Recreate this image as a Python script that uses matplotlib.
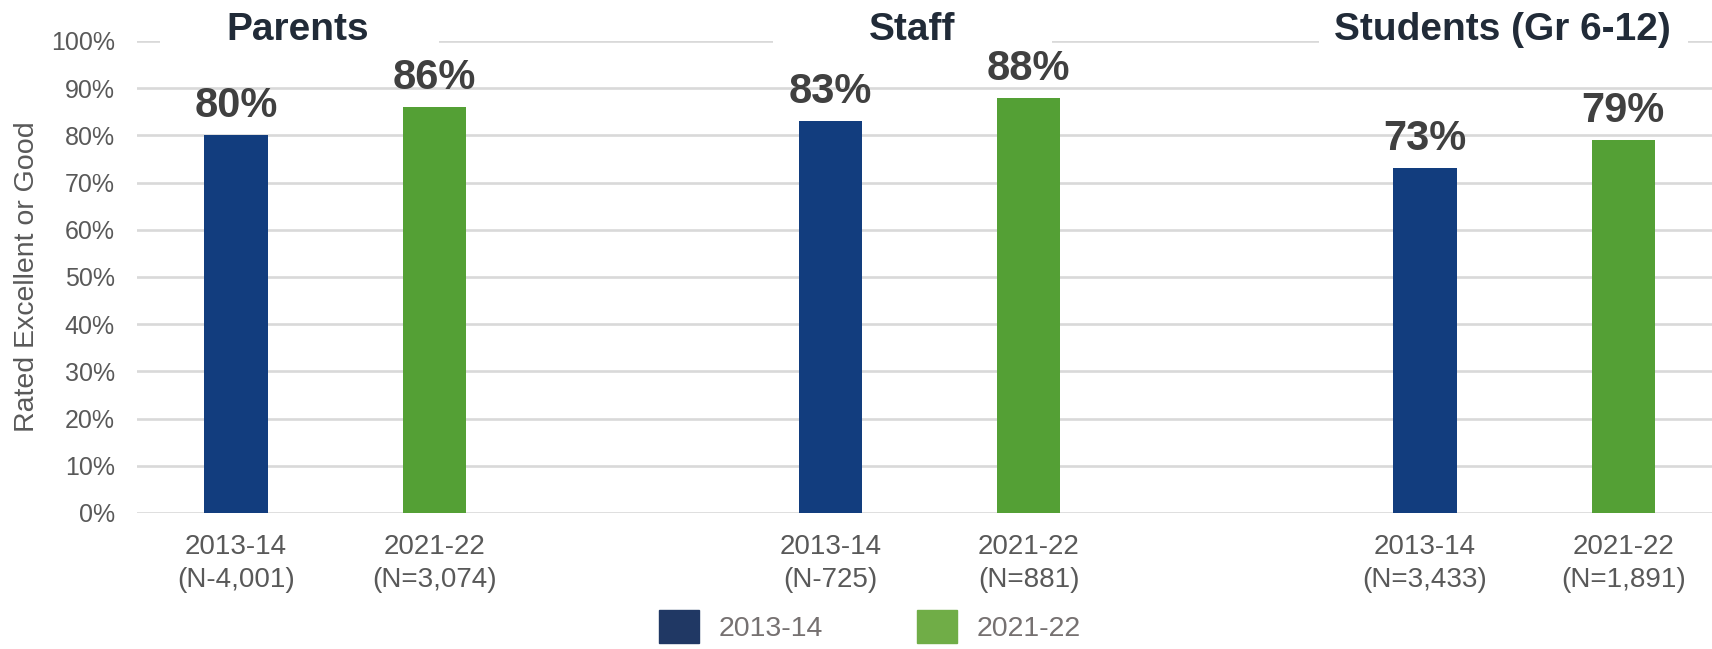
import matplotlib
matplotlib.use("Agg")
import matplotlib.pyplot as plt
from matplotlib.patches import Patch, Rectangle
import numpy as np

plt.rcParams['font.family'] = ['Liberation Sans', 'DejaVu Sans']

# survey results, percent rated excellent or good
groups = ["Parents", "Staff", "Students (Gr 6-12)"]
years = ["2013-14", "2021-22"]
pct_2013 = [80, 83, 73]
pct_2021 = [86, 88, 79]
n_2013 = ["(N-4,001)", "(N-725)", "(N=3,433)"]
n_2021 = ["(N=3,074)", "(N=881)", "(N=1,891)"]

bar_blue = "#123D7E"
bar_green = "#54A035"
leg_blue = "#203864"
leg_green = "#70AD47"
grid_col = "#D9D9D9"
tick_col = "#595959"

# each group takes 3 slots: two bars and a gap
x_old = np.arange(len(groups)) * 3
x_new = x_old + 1

fig = plt.figure(figsize=(17.12, 6.49), dpi=100)
ax = fig.add_axes([137/1712, 1 - 513/649, (1712-137)/1712, (513-41)/649])

b1 = ax.bar(x_old, pct_2013, width=0.32, color=bar_blue, zorder=3)
b2 = ax.bar(x_new, pct_2021, width=0.32, color=bar_green, zorder=3)

for bars, vals in [(b1, pct_2013), (b2, pct_2021)]:
    for rect, v in zip(bars, vals):
        ax.annotate(f"{v}%", (rect.get_x() + rect.get_width()/2, v),
                    xytext=(0, 13), textcoords="offset points",
                    ha="center", va="baseline", fontsize=30,
                    fontweight="bold", color="#404040", zorder=5)

ax.set_xlim(-0.5, 7.448)
ax.set_ylim(0, 100)
ax.set_yticks(np.arange(0, 101, 10))
ax.set_yticklabels([f"{t}%" for t in range(0, 101, 10)])
ax.yaxis.grid(True, color=grid_col, linewidth=1.9, zorder=0)
ax.set_axisbelow(True)
for s in ax.spines.values():
    s.set_visible(False)
ax.tick_params(axis="y", length=0, labelsize=18, labelcolor=tick_col, pad=16)

xt = np.concatenate([x_old, x_new])
xl = [f"{years[0]}\n{n}" for n in n_2013] + [f"{years[1]}\n{n}" for n in n_2021]
ax.set_xticks(xt)
ax.set_xticklabels(xl, linespacing=1.35)
ax.tick_params(axis="x", length=0, labelsize=20, labelcolor=tick_col, pad=15)

ax.set_ylabel("Rated Excellent or Good", fontsize=20.5, color=tick_col)
ax.yaxis.set_label_coords(-0.0615, 0.5)

# group titles sit in white boxes over the top gridline
title_x = [0.313, 3.411, 6.389]
box_x = [(-0.383, 1.024), (2.708, 4.115), (5.466, 7.327)]
for name, tx, (bx0, bx1) in zip(groups, title_x, box_x):
    ax.add_patch(Rectangle((bx0, 97), bx1 - bx0, 8, facecolor="white",
                           edgecolor="none", zorder=4, clip_on=False))
    ax.text(tx, 102.4, name, ha="center", va="center", fontsize=28,
            fontweight="bold", color="#212B38", zorder=5, clip_on=False)

handles = [Patch(color=leg_blue, label=years[0]),
           Patch(color=leg_green, label=years[1])]
fig.legend(handles=handles, loc="center", bbox_to_anchor=(0.508, 0.034),
           ncol=2, frameon=False, fontsize=20.5, labelcolor="#767171",
           handlelength=1.4, handleheight=1.4, handletextpad=0.7,
           columnspacing=3.3, borderpad=0, borderaxespad=0)

fig.savefig("out.png", dpi=100)
